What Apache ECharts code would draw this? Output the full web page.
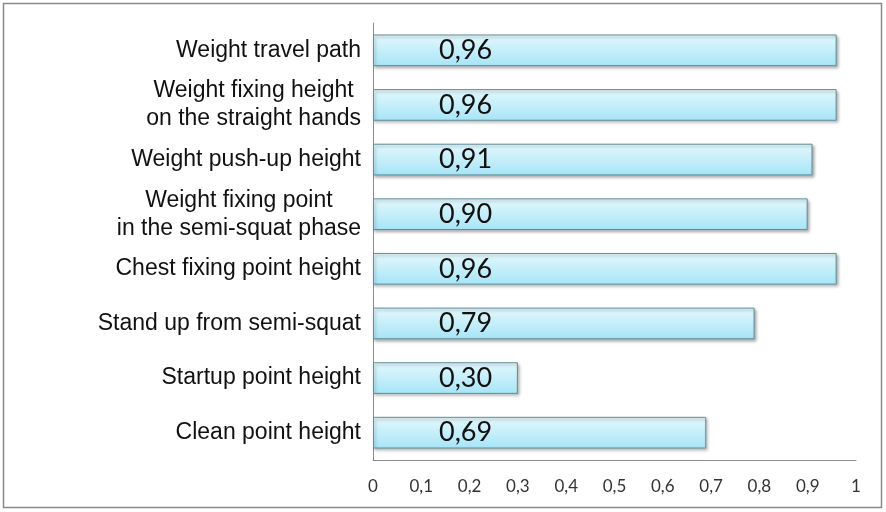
<!DOCTYPE html>
<html>
<head>
<meta charset="utf-8">
<script src="https://cdn.jsdelivr.net/npm/echarts@6/dist/echarts.min.js"></script>
<style>
html,body{margin:0;padding:0;background:#fff;}
#chart{width:886px;height:512px;}
</style>
</head>
<body>
<div id="chart"></div>
<script>
const categories = [
  "Weight travel path",
  "Weight fixing height\non the straight hands",
  "Weight push-up height",
  "Weight fixing point\nin the semi-squat phase",
  "Chest fixing point height",
  "Stand up from semi-squat",
  "Startup point height",
  "Clean point height"
];
const values = [0.96, 0.96, 0.91, 0.90, 0.96, 0.79, 0.30, 0.69];
const xTicks = [0, 0.1, 0.2, 0.3, 0.4, 0.5, 0.6, 0.7, 0.8, 0.9, 1];

const fmt = v => String(v).replace('.', ',');
const chart = echarts.init(document.getElementById('chart'), null, {renderer: 'canvas'});
chart.setOption({
  animation: false,
  backgroundColor: '#ffffff',
  graphic: [{
    type: 'rect',
    shape: {x: 3.5, y: 3.5, width: 878, height: 504},
    style: {fill: 'none', stroke: '#8a8a8a', lineWidth: 1.5},
    silent: true
  }],
  grid: {left: 373, right: 30, top: 23, bottom: 52, containLabel: false},
  xAxis: {
    type: 'value',
    min: 0, max: 1, interval: 0.1,
    axisLine: {show: true, lineStyle: {color: '#8c8c8c', width: 1}},
    axisTick: {show: false},
    splitLine: {show: false},
    axisLabel: {
      margin: 18,
      color: '#333333',
      fontFamily: 'Lato, "Open Sans", sans-serif',
      fontSize: 17,
      formatter: v => {
        const t = xTicks.find(x => Math.abs(x - v) < 1e-6);
        return t === undefined ? '' : fmt(t);
      }
    }
  },
  yAxis: {
    type: 'category',
    inverse: true,
    data: categories,
    axisLine: {show: true, lineStyle: {color: '#8c8c8c', width: 1}},
    axisTick: {show: false},
    axisLabel: {
      margin: 12,
      color: '#111111',
      fontFamily: '"Liberation Sans", Arial, sans-serif',
      fontSize: 23,
      lineHeight: 28,
      align: 'right',
      formatter: v => v.split('\n').map(s => '{c|' + s + '}').join('\n'),
      rich: {
        c: {
          align: 'center',
          color: '#111111',
          fontFamily: '"Liberation Sans", Arial, sans-serif',
          fontSize: 23,
          lineHeight: 28
        }
      }
    }
  },
  series: [{
    type: 'bar',
    data: values,
    barCategoryGap: '42%',
    itemStyle: {
      color: new echarts.graphic.LinearGradient(0, 0, 0, 1, [
        {offset: 0, color: '#e4f8fd'},
        {offset: 1, color: '#a6e5f7'}
      ]),
      borderColor: '#5f8f9a',
      borderWidth: 1,
      shadowColor: 'rgba(0,0,0,0.3)',
      shadowBlur: 3,
      shadowOffsetX: 1.5,
      shadowOffsetY: 2
    },
    label: {
      show: true,
      position: [66, '50%'],
      align: 'left',
      verticalAlign: 'middle',
      color: '#111111',
      fontFamily: 'Lato, "Open Sans", sans-serif',
      fontSize: 27,
      formatter: p => p.value.toFixed(2).replace('.', ',')
    }
  }]
});
</script>
</body>
</html>
